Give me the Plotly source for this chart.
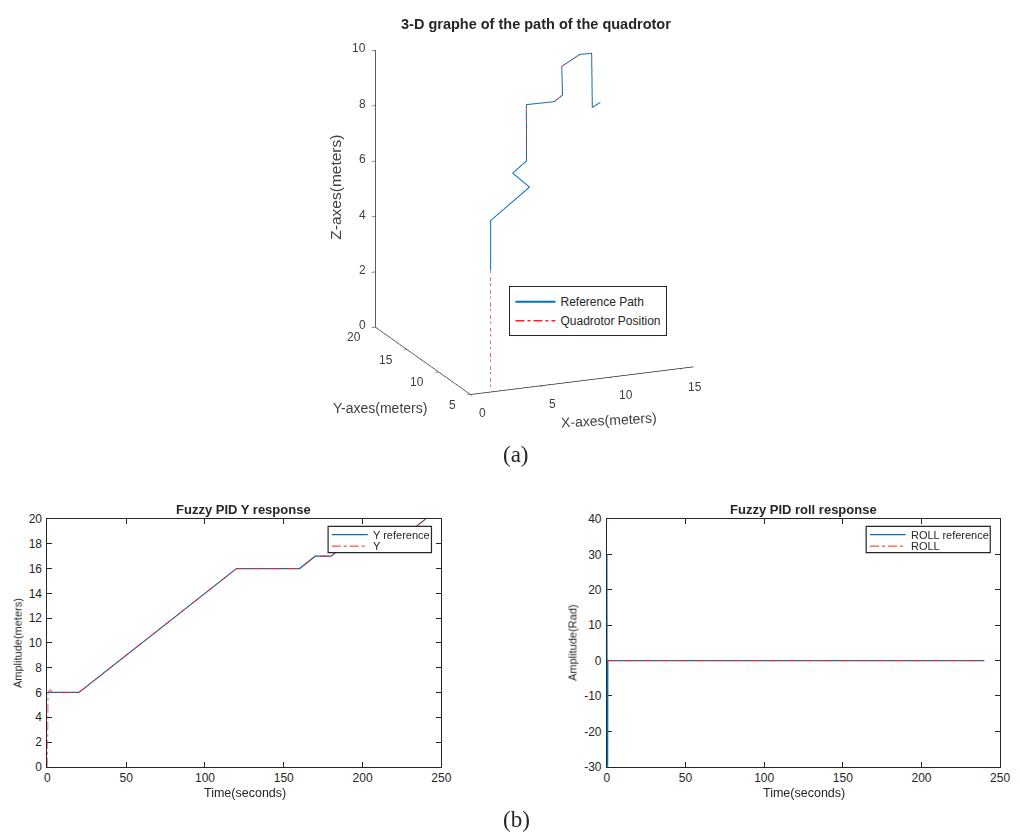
import plotly.graph_objects as go

# ---------------- data ----------------
# 3-D reference path waypoints (metres)
ref_x = [1.9, 1.9, 5.6, 5.3, 7.2, 8.1, 11.0, 11.6, 12.0, 13.3, 14.6, 15.1, 15.9]
ref_y = [6.0, 6.0, 8.0, 10.0, 12.0, 14.0, 16.0, 16.0, 17.0, 17.0, 18.0, 19.0, 19.5]
ref_z = [4.2, 6.0, 6.65, 6.85, 6.85, 8.5, 8.1, 8.3, 9.15, 9.5, 9.3, 7.15, 7.2]

# measured quadrotor position (metres)
quad_x = [1.9, 1.9, 5.6, 5.3, 7.2, 8.1, 11.0, 11.6, 12.0, 13.3, 14.6, 15.1, 15.9]
quad_y = [6.0, 6.0, 8.0, 10.0, 12.0, 14.0, 16.0, 16.0, 17.0, 17.0, 18.0, 19.0, 19.5]
quad_z = [0.0, 6.0, 6.65, 6.85, 6.85, 8.5, 8.1, 8.3, 9.15, 9.5, 9.3, 7.15, 7.2]

# Y response (seconds, metres)
t_yref = [0, 20, 120, 160, 170, 180, 190, 200, 210, 230, 240]
y_ref = [6, 6, 16, 16, 17, 17, 18, 18, 19, 19, 20]
t_y = [0, 0.3, 2, 3, 20, 120, 160, 170, 180, 190, 200, 210, 230, 240]
y_out = [0, 6, 6.22, 6, 6, 16, 16, 17, 17, 18, 18, 19, 19, 20]

# roll response (seconds, rad)
t_rollref = [0, 0.3, 0.6, 240]
roll_ref = [30, -80, 0, 0]
t_roll = [0, 240]
roll_out = [0, 0]

x_ticks3d = [0, 5, 10, 15]
y_ticks3d = [5, 10, 15, 20]
z_ticks3d = [0, 2, 4, 6, 8, 10]
roll_ticks = [-30, -20, -10, 0, 10, 20, 30, 40]

# ---------------- style ----------------
W, H = 1020, 837
BLUE = "#0072BD"
RED = "#FF2020"
AX = "#262626"
TICK3D = "#404040"
SANS = "Liberation Sans, Arial, sans-serif"
SERIF = "Liberation Serif, Times New Roman, serif"


def px(x):
    return x / W


def py(y):
    return 1 - y / H


fig = go.Figure()

# ---- 3-D path ----
fig.add_trace(go.Scatter3d(
    x=ref_x, y=ref_y, z=ref_z, mode="lines", name="Reference Path",
    line=dict(color=BLUE, width=2), legend="legend"))
fig.add_trace(go.Scatter3d(
    x=quad_x, y=quad_y, z=quad_z, mode="lines", name="Quadrotor Position",
    line=dict(color=RED, width=1.5, dash="dashdot"), legend="legend"))

# ---- Y response ----
fig.add_trace(go.Scatter(x=t_yref, y=y_ref, mode="lines", name="Y reference",
                         line=dict(color=BLUE, width=1.2), xaxis="x", yaxis="y",
                         showlegend=False))
fig.add_trace(go.Scatter(x=t_y, y=y_out, mode="lines", name="Y",
                         line=dict(color=RED, width=1, dash="dashdot"),
                         xaxis="x", yaxis="y", showlegend=False))

# ---- roll response ----
fig.add_trace(go.Scatter(x=t_rollref, y=roll_ref, mode="lines", name="ROLL reference",
                         line=dict(color=BLUE, width=1.2), xaxis="x2", yaxis="y2",
                         showlegend=False))
fig.add_trace(go.Scatter(x=t_roll, y=roll_out, mode="lines", name="ROLL",
                         line=dict(color=RED, width=1, dash="dashdot"),
                         xaxis="x2", yaxis="y2", showlegend=False))

axis3d = dict(showgrid=False, showbackground=False, zeroline=False,
              showline=True, linecolor=AX, linewidth=1.5,
              ticks="inside", ticklen=4, tickcolor=AX,
              showticklabels=False,
              showspikes=False, title=dict(text=""))

fig.update_layout(
    width=W, height=H,
    margin=dict(l=0, r=0, t=0, b=0),
    paper_bgcolor="white", plot_bgcolor="white",
    font=dict(family=SANS, color=AX),
    scene=dict(
        domain=dict(x=[0.3075, 0.7475], y=[0.51, 1.0]),
        xaxis=dict(axis3d, range=[0, 16], tickvals=x_ticks3d),
        yaxis=dict(axis3d, range=[5, 20], tickvals=y_ticks3d),
        zaxis=dict(axis3d, range=[0, 10], tickvals=z_ticks3d),
        aspectmode="manual", aspectratio=dict(x=1.20, y=1.22, z=1.44),
        camera=dict(projection=dict(type="orthographic"),
                    eye=dict(x=-0.594, y=-1.418, z=0.478),
                    up=dict(x=0, y=0, z=1), center=dict(x=0, y=0, z=0)),
    ),
    legend=dict(x=px(513), y=py(284), xanchor="left", yanchor="top",
                bgcolor="white", bordercolor=AX, borderwidth=1,
                font=dict(family=SANS, size=12, color=AX), itemwidth=40,
                tracegroupgap=0),
    xaxis=dict(domain=[px(45), px(444)], range=[0, 250], dtick=50, anchor="y"),
    yaxis=dict(domain=[py(772.7), py(520.7)], range=[0, 20], dtick=2, anchor="x"),
    xaxis2=dict(domain=[px(611.7), px(1010)], range=[0, 250], dtick=50, anchor="y2"),
    yaxis2=dict(domain=[py(772.7), py(520.7)], range=[-30, 40], anchor="x2",
                tickvals=roll_ticks, ticktext=[str(v) for v in roll_ticks]),
)

for ax in ["xaxis", "yaxis", "xaxis2", "yaxis2"]:
    fig.layout[ax].update(showline=True, mirror="ticks", linecolor=AX, linewidth=1,
                          ticks="inside", ticklen=5, tickcolor=AX,
                          showgrid=False, zeroline=False, fixedrange=True,
                          layer="below traces",
                          ticklabelstandoff=2 if ax.startswith("y") else 0,
                          tickfont=dict(family=SANS, size=12, color=AX))

# tick labels of the 3-D axes, placed at their tick positions in the scene
scene_ann = []
tick_font = dict(family=SANS, size=12, color=TICK3D)
for v in x_ticks3d:
    scene_ann.append(dict(x=v, y=5, z=0, text=str(v), showarrow=False,
                          xanchor="left", yanchor="top", xshift=7, yshift=-9,
                          font=tick_font))
for v in y_ticks3d:
    scene_ann.append(dict(x=0, y=v, z=0, text=str(v), showarrow=False,
                          xanchor="right", yanchor="middle", xshift=-12, yshift=-10,
                          font=tick_font))
for v in z_ticks3d:
    scene_ann.append(dict(x=0, y=20, z=v, text=str(v), showarrow=False,
                          xanchor="right", yanchor="middle", xshift=-7, yshift=2,
                          font=tick_font))
fig.layout.scene.annotations = scene_ann

ann = []


def text(x, y, s, size=11, bold=False, angle=0, family=SANS, xanchor="center",
         yanchor="middle", color=AX):
    ann.append(dict(x=px(x), y=py(y), xref="paper", yref="paper", text=s,
                    showarrow=False, textangle=angle, xanchor=xanchor,
                    yanchor=yanchor,
                    font=dict(family=family, size=size, color=color,
                              weight="bold" if bold else "normal")))


# 3-D figure titles
text(540, 17, "3-D graphe of the path of the quadrotor", size=14.5, bold=True)
text(614, 420, "X-axes(meters)", size=14, angle=-3, color=TICK3D)
text(382, 408, "Y-axes(meters)", size=14, color=TICK3D)
text(337, 183, "Z-axes(meters)", size=15.5, angle=-90, color=TICK3D)
text(520, 455, "(a)", size=23, family=SERIF)
text(520, 826, "(b)", size=23, family=SERIF)

# 2-D figure titles
text(244, 511, "Fuzzy PID Y response", size=13, bold=True)
text(811, 511, "Fuzzy PID roll response", size=13, bold=True)
text(245, 799, "Time(seconds)", size=12.5)
text(811, 799, "Time(seconds)", size=12.5)
text(15, 647, "Amplitude(meters)", size=11, angle=-90)
text(577, 647, "Amplitude(Rad)", size=11, angle=-90)

# legend boxes for the 2-D panels
shapes = []


def legend_box(x0, x1, y0, y1, sample0, sample1, labels, text_x):
    shapes.append(dict(type="rect", xref="paper", yref="paper",
                       x0=px(x0), x1=px(x1), y0=py(y1), y1=py(y0),
                       line=dict(color=AX, width=1.2), fillcolor="white",
                       layer="above"))
    rows = [536.7, 548.3]
    styles = [dict(color=BLUE, width=1.2), dict(color=RED, width=1, dash="dashdot")]
    for r, st, lab in zip(rows, styles, labels):
        shapes.append(dict(type="line", xref="paper", yref="paper",
                           x0=px(sample0), x1=px(sample1), y0=py(r), y1=py(r),
                           line=st, layer="above"))
        text(text_x, r, lab, size=11, xanchor="left")


legend_box(329.3, 434, 528.3, 555, 333, 369.5, ["Y reference", "Y"], 372.5)
legend_box(874.3, 1000, 528.3, 555, 878.3, 914.3, ["ROLL reference", "ROLL"], 917.5)

fig.update_layout(annotations=ann, shapes=shapes)

fig.write_html("out.html")
